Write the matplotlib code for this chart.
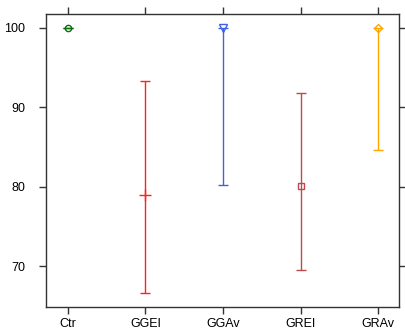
import matplotlib
matplotlib.use("Agg")
import matplotlib.pyplot as plt
import numpy as np

groups = ["Ctr", "GGEI", "GGAv", "GREI", "GRAv"]
means = [100, 79.0, 100, 80.1, 100]
lower = [100, 66.6, 80.3, 69.6, 84.6]
upper = [100, 93.3, 100, 91.8, 100]
colors = ["#0a6e0a", "#ff2020", "#3f63e0", "#c04848", "#ffa500"]
markers = ["o", "+", "v", "s", "D"]
msizes = [4.5, 8, 6, 5, 4.5]

plt.rcParams["font.family"] = ["Liberation Sans", "DejaVu Sans"]

f = plt.figure(figsize=(4.06, 3.31), dpi=100)
ax = f.add_axes([0.1133, 0.0725, 0.870, 0.885])

x = np.arange(1, len(groups) + 1)
for i in range(len(groups)):
    err = [[means[i] - lower[i]], [upper[i] - means[i]]]
    ax.errorbar(x[i], means[i], yerr=err, color=colors[i], marker=markers[i],
                ms=msizes[i], mfc="none", mec=colors[i], mew=1,
                elinewidth=1, capsize=3.5, capthick=1, lw=0)

ax.set_xlim(0.72, 5.27)
ax.set_ylim(64.9, 101.75)
ax.set_xticks(x)
ax.set_xticklabels(groups)
ax.set_yticks([70, 80, 90, 100])

for s in ax.spines.values():
    s.set_color("#333333")
    s.set_linewidth(1)
ax.tick_params(direction="out", length=5, width=1, color="#333333",
               labelsize=9, top=True, right=True, labeltop=False, labelright=False)
ax.tick_params(axis="x", pad=3)
ax.tick_params(axis="y", pad=10)

f.savefig("out.png", dpi=100)
